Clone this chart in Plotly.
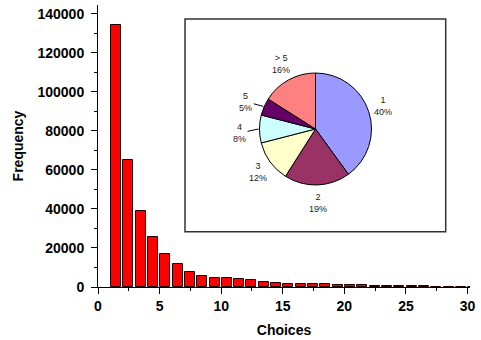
import math
import plotly.graph_objects as go

# ---------------- data ----------------
choices = list(range(1, 31))
frequency = [134000, 65000, 38900, 25400, 17000, 11800, 7600, 5500, 4500, 4500,
             4200, 3500, 2700, 2000, 1600, 1500, 1400, 1300, 1100, 1000,
             900, 500, 450, 400, 350, 300, 250, 220, 200, 180]

pie_labels = ["1", "2", "3", "4", "5", "> 5"]
pie_pct = [40, 19, 12, 8, 5, 16]
pie_colors = ["#9999FF", "#993366", "#FFFFCC", "#CCFFFF", "#660066", "#FF8080"]

x_ticks = [0, 5, 10, 15, 20, 25, 30]
y_ticks = [0, 20000, 40000, 60000, 80000, 100000, 120000, 140000]

# ---------------- layout geometry ----------------
W, H = 481, 340
ML, MR, MT, MB = 98, 11, 5, 53
PW, PH = W - ML - MR, H - MT - MB

font_fam = "Arial, Liberation Sans, sans-serif"

fig = go.Figure()

fig.add_trace(go.Bar(
    x=[c + 0.46 for c in choices], y=frequency, width=0.81,
    marker=dict(color="#FF0000", line=dict(color="#220000", width=1)),
    showlegend=False, hoverinfo="skip"))

# inset pie
cx_px, cy_px, r_px = 315.5, 129.0, 56.0
cx = (cx_px - ML) / PW
cy = (H - MB - cy_px) / PH
fig.add_trace(go.Pie(
    values=pie_pct, labels=pie_labels, sort=False, direction="clockwise",
    rotation=0, textinfo="none", hoverinfo="skip", showlegend=False,
    marker=dict(colors=pie_colors, line=dict(color="#000000", width=1)),
    domain=dict(x=[cx - r_px / PW, cx + r_px / PW],
                y=[cy - r_px / PH, cy + r_px / PH])))

# pie labels
total = sum(pie_pct)
cum = 0.0
annotations = []
for lab, p in zip(pie_labels, pie_pct):
    mid = (cum + p / 2) / total * 2 * math.pi
    cum += p
    dx, dy = math.sin(mid), math.cos(mid)  # dy positive = up
    small = p < 10
    g = 9 if small else 4
    hw, hh = 11, 14
    lx = dx * (r_px + g) + dx * hw
    ly = dy * (r_px + g) + dy * hh
    txt = f"{lab}<br>{round(p / total * 100)}%"
    fnt = dict(family=font_fam, size=9, color="#1a1a1a")
    if small:
        ly -= 4
        ex = dx * (r_px + 1)
        ey = dy * (r_px + 1)
        annotations.append(dict(
            x=cx + ex / PW, y=cy + ey / PH, xref="paper", yref="paper",
            ax=lx - ex, ay=-(ly - ey), text=txt, showarrow=True,
            arrowhead=0, arrowwidth=1, arrowcolor="#000000", standoff=0,
            font=fnt, align="center"))
    else:
        annotations.append(dict(
            x=cx + lx / PW, y=cy + ly / PH, xref="paper", yref="paper",
            text=txt, showarrow=False, font=fnt, align="center",
            xanchor="center", yanchor="middle"))

# inset box
bx0, bx1, by0, by1 = 185, 445.7, 19, 231.7
shapes = [dict(type="rect", xref="paper", yref="paper",
               x0=(bx0 - ML) / PW, x1=(bx1 - ML) / PW,
               y0=(H - MB - by1) / PH, y1=(H - MB - by0) / PH,
               line=dict(color="#333333", width=1.5), fillcolor="white",
               layer="below")]

tickfont = dict(family=font_fam, size=14, color="#000000", weight="bold")
fig.update_layout(
    width=W, height=H, margin=dict(l=ML, r=MR, t=MT, b=MB, autoexpand=False),
    paper_bgcolor="white", plot_bgcolor="white",
    annotations=annotations, shapes=shapes, bargap=0,
    xaxis=dict(range=[0, 30.2], tickvals=x_ticks, ticks="outside", ticklen=6,
               tickcolor="black", showline=True, linecolor="black", linewidth=1,
               showgrid=False, zeroline=False, tickfont=tickfont,
               minor=dict(dtick=2.5, tick0=0, ticks="outside", ticklen=3,
                          tickcolor="black", showgrid=False),
               title=dict(text="Choices", standoff=12,
                          font=dict(family=font_fam, size=14, color="black",
                                    weight="bold"))),
    yaxis=dict(range=[0, 144500], tickvals=y_ticks, tickformat="d",
               ticks="outside", ticklen=6, ticklabelstandoff=4,
               tickcolor="black", showline=True, linecolor="black", linewidth=1,
               showgrid=False, zeroline=False, tickfont=tickfont,
               minor=dict(dtick=10000, tick0=0, ticks="outside", ticklen=3,
                          tickcolor="black", showgrid=False),
               title=dict(text="Frequency", standoff=10,
                          font=dict(family=font_fam, size=14, color="black",
                                    weight="bold"))),
)

fig.write_html("out.html")
